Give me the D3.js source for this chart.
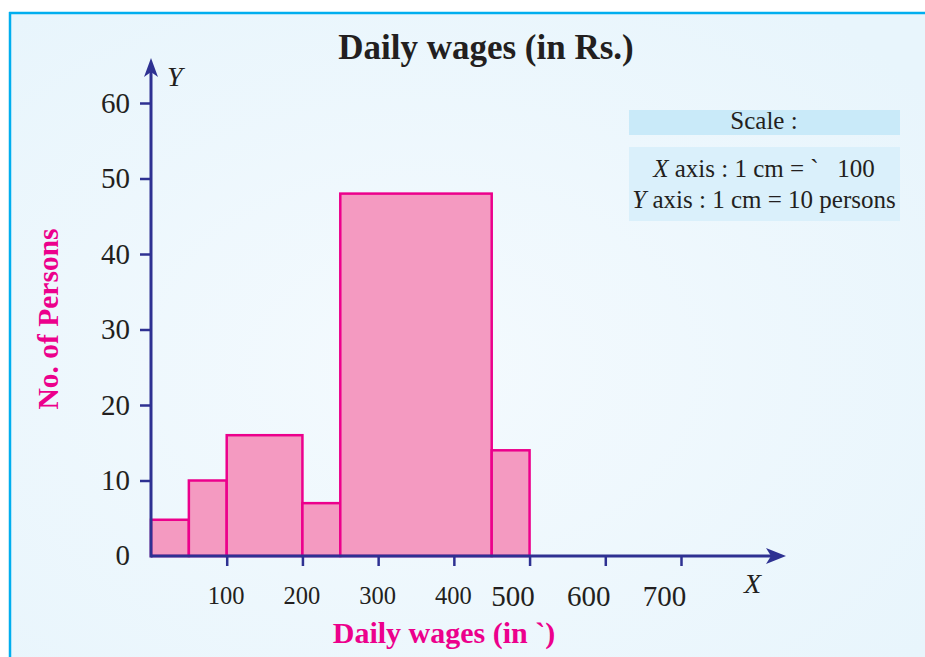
<!DOCTYPE html>
<html>
<head>
<meta charset="utf-8">
<script src="https://cdn.jsdelivr.net/npm/d3@7/dist/d3.min.js"></script>
<style>
  html, body { margin: 0; padding: 0; background: #ffffff; }
  svg { display: block; }
</style>
</head>
<body>
<svg id="chart" width="925" height="657"></svg>
<script>
// ---- data ----
const binStarts = [0, 50, 100, 200, 250, 450];
const binEnds   = [50, 100, 200, 250, 450, 500];
const persons   = [4.8, 10, 16, 7, 48, 14];
const xTickValues = [100, 200, 300, 400, 500, 600, 700];
const xTickLabels = ["100", "200", "300", "400", "500", "600", "700"];
const yTickValues = [0, 10, 20, 30, 40, 50, 60];
const yTickLabels = ["0", "10", "20", "30", "40", "50", "60"];
const chartTitle = "Daily wages (in Rs.)";
const xAxisTitle = "Daily wages (in `)";
const yAxisTitle = "No. of Persons";
const scaleHeading = "Scale :";

const svg = d3.select("#chart");
const serif = "'Liberation Serif', 'DejaVu Serif', serif";
const axisColor = "#2E3192";
const pink = "#EC008C";

// background
const defs = svg.append("defs");
const grad = defs.append("radialGradient").attr("id", "bg")
  .attr("cx", "45%").attr("cy", "55%").attr("r", "70%");
grad.append("stop").attr("offset", "0%").attr("stop-color", "#F4FAFE");
grad.append("stop").attr("offset", "100%").attr("stop-color", "#E8F5FC");
svg.append("rect").attr("x", 10).attr("y", 13).attr("width", 915).attr("height", 644)
  .attr("fill", "url(#bg)");
// frame border top & left
svg.append("line").attr("x1", 9).attr("x2", 925).attr("y1", 13).attr("y2", 13)
  .attr("stroke", "#00AEEF").attr("stroke-width", 2.5);
svg.append("line").attr("x1", 10).attr("x2", 10).attr("y1", 12).attr("y2", 657)
  .attr("stroke", "#00AEEF").attr("stroke-width", 2.5);

// scales
const x = d3.scaleLinear().domain([0, 700]).range([151, 681]);
const y = d3.scaleLinear().domain([0, 60]).range([556, 103]);

// bars
svg.append("g").selectAll("rect").data(persons).join("rect")
  .attr("x", (d, i) => x(binStarts[i]))
  .attr("y", d => y(d))
  .attr("width", (d, i) => x(binEnds[i]) - x(binStarts[i]))
  .attr("height", d => y(0) - y(d))
  .attr("fill", "#F49AC1")
  .attr("stroke", pink)
  .attr("stroke-width", 2.5);

// x axis
const xAxis = d3.axisBottom(x).tickValues(xTickValues)
  .tickFormat((d, i) => xTickLabels[i]).tickSize(10).tickSizeOuter(0);
const gx = svg.append("g").attr("transform", `translate(0,${y(0)})`).call(xAxis);
gx.select(".domain").remove();
gx.selectAll(".tick line").attr("stroke", axisColor).attr("stroke-width", 2.5);
gx.selectAll(".tick text")
  .attr("font-family", serif).attr("fill", "#231F20")
  .attr("font-size", d => d >= 500 ? 29 : 24.5)
  .attr("dx", d => d >= 500 ? -17 : -1)
  .attr("y", d => d >= 500 ? 29 : 31)
  .attr("dy", "0.71em");

// y axis
const yAxis = d3.axisLeft(y).tickValues(yTickValues.filter(v => v > 0))
  .tickFormat(d => yTickLabels[yTickValues.indexOf(d)]).tickSize(11).tickSizeOuter(0);
const gy = svg.append("g").attr("transform", `translate(${x(0)},0)`).call(yAxis);
gy.select(".domain").remove();
gy.selectAll(".tick line").attr("stroke", axisColor).attr("stroke-width", 2.5);
gy.selectAll(".tick text")
  .attr("font-family", serif).attr("font-size", 29).attr("fill", "#231F20")
  .attr("x", -21);
// zero label
svg.append("text").attr("x", x(0) - 21).attr("y", y(0)).attr("dy", "0.32em")
  .attr("text-anchor", "end").attr("font-family", serif).attr("font-size", 29)
  .attr("fill", "#231F20").text(yTickLabels[0]);

// axis lines with arrows
svg.append("line").attr("x1", x(0)).attr("x2", 775).attr("y1", y(0)).attr("y2", y(0))
  .attr("stroke", axisColor).attr("stroke-width", 3);
svg.append("path")
  .attr("d", `M786,${y(0)} L766,${y(0) - 8} L771,${y(0)} L766,${y(0) + 8} Z`)
  .attr("fill", axisColor);
svg.append("line").attr("x1", x(0)).attr("x2", x(0)).attr("y1", y(0) + 1.5).attr("y2", 70)
  .attr("stroke", axisColor).attr("stroke-width", 3);
svg.append("path")
  .attr("d", `M${x(0)},58 L${x(0) - 7},77 L${x(0)},72 L${x(0) + 7},77 Z`)
  .attr("fill", axisColor);

// axis letters
svg.append("text").attr("x", 167).attr("y", 86).attr("font-family", serif)
  .attr("font-style", "italic").attr("font-size", 28).attr("fill", "#231F20").text("Y");
svg.append("text").attr("x", 744).attr("y", 593).attr("font-family", serif)
  .attr("font-style", "italic").attr("font-size", 28).attr("fill", "#231F20").text("X");

// title
svg.append("text").attr("x", 486).attr("y", 59).attr("text-anchor", "middle")
  .attr("font-family", serif).attr("font-weight", "bold").attr("font-size", 35)
  .attr("fill", "#231F20").text(chartTitle);

// axis titles
svg.append("text").attr("x", 444).attr("y", 643).attr("text-anchor", "middle")
  .attr("font-family", serif).attr("font-weight", "bold").attr("font-size", 30)
  .attr("fill", pink).text(xAxisTitle);
svg.append("text").attr("transform", "translate(58,319) rotate(-90)")
  .attr("text-anchor", "middle")
  .attr("font-family", serif).attr("font-weight", "bold").attr("font-size", 29.5)
  .attr("fill", pink).text(yAxisTitle);

// scale box
svg.append("rect").attr("x", 629).attr("y", 110).attr("width", 271).attr("height", 25)
  .attr("fill", "#C9EAF9");
svg.append("rect").attr("x", 629).attr("y", 147).attr("width", 271).attr("height", 74)
  .attr("fill", "#DAF0FB");
svg.append("text").attr("x", 764).attr("y", 129).attr("text-anchor", "middle")
  .attr("font-family", serif).attr("font-size", 25).attr("fill", "#231F20").text(scaleHeading);
const l1 = svg.append("text").attr("x", 764).attr("y", 177).attr("text-anchor", "middle")
  .attr("font-family", serif).attr("font-size", 25).attr("fill", "#231F20")
  .attr("xml:space", "preserve");
l1.append("tspan").attr("font-style", "italic").text("X");
l1.append("tspan").text(" axis : 1 cm = `   100");
const l2 = svg.append("text").attr("x", 764).attr("y", 208).attr("text-anchor", "middle")
  .attr("font-family", serif).attr("font-size", 25).attr("fill", "#231F20");
l2.append("tspan").attr("font-style", "italic").text("Y");
l2.append("tspan").text(" axis : 1 cm = 10 persons");
</script>
</body>
</html>
